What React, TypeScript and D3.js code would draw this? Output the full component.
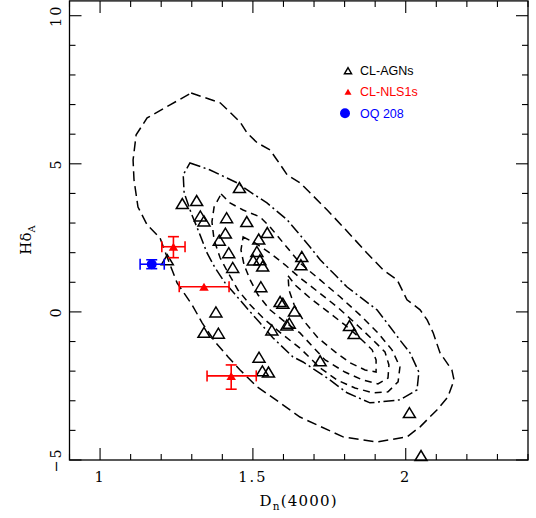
import React from "react";
import * as d3 from "d3";

// ---------- data ----------
const agnX = [1.456,1.269,1.316,1.328,1.340,1.414,1.480,1.410,1.390,1.547,1.519,1.421,1.513,1.501,1.523,1.532,1.434,1.526,1.220,1.660,1.657,1.589,1.598,1.636,1.619,1.611,1.562,1.379,1.340,1.387,1.520,1.531,1.551,1.816,1.831,1.720,2.012,2.050];
const agnY = [4.20,3.66,3.76,3.24,3.07,3.18,3.05,2.66,2.42,2.68,2.46,2.00,2.04,1.75,1.76,1.55,1.50,0.85,1.76,1.87,1.59,0.35,0.29,0.03,-0.38,-0.44,-0.61,0.0,-0.69,-0.72,-1.53,-1.99,-2.03,-0.46,-0.73,-1.65,-3.40,-4.85];

const nlsX = [1.240, 1.340, 1.429];
const nlsY = [2.20, 0.85, -2.16];
const nlsXLo = [0.038, 0.081, 0.079];
const nlsXHi = [0.038, 0.082, 0.082];
const nlsYLo = [0.37, 0, 0.45];
const nlsYHi = [0.34, 0, 0.37];

const oqX = [1.169];
const oqY = [1.61];
const oqXLo = [0.038];
const oqXHi = [0.041];
const oqYLo = [0.15];
const oqYHi = [0.15];

const contour1: [number, number][] = [[1.298,7.39],[1.393,7.06],[1.458,6.41],[1.481,6.04],[1.514,5.71],[1.556,5.47],[1.579,5.13],[1.612,4.63],[1.654,4.36],[1.687,4.02],[1.743,3.44],[1.795,2.87],[1.873,1.99],[1.926,1.42],[1.972,1.08],[2.004,0.41],[2.047,0.07],[2.07,-0.27],[2.09,-0.71],[2.112,-1.38],[2.151,-1.96],[2.158,-2.30],[2.138,-2.87],[2.102,-3.31],[2.047,-3.88],[2.004,-4.22],[1.906,-4.39],[1.795,-4.22],[1.654,-3.55],[1.589,-3.07],[1.514,-2.53],[1.458,-1.96],[1.419,-1.52],[1.376,-1.01],[1.334,-0.37],[1.301,0.24],[1.252,0.98],[1.219,1.86],[1.196,2.50],[1.154,2.94],[1.124,3.54],[1.111,4.46],[1.108,5.13],[1.118,5.98],[1.154,6.55],[1.229,6.99]];
const contour2: [number, number][] = [[1.294,5.03],[1.360,4.79],[1.448,4.36],[1.491,4.05],[1.546,3.68],[1.612,3.11],[1.648,2.67],[1.687,2.19],[1.720,1.76],[1.762,1.32],[1.808,0.84],[1.850,0.51],[1.906,0.07],[1.949,-0.51],[1.981,-0.95],[2.014,-1.38],[2.043,-2.03],[2.037,-2.63],[1.981,-2.97],[1.883,-3.07],[1.808,-2.73],[1.743,-2.23],[1.664,-1.69],[1.631,-1.52],[1.566,-0.88],[1.523,-0.37],[1.491,0.0],[1.452,0.47],[1.409,0.98],[1.376,1.49],[1.350,1.99],[1.327,2.60],[1.298,3.34],[1.275,4.02],[1.272,4.63]];
const contour3: [number, number][] = [[1.396,3.98],[1.425,3.68],[1.468,3.44],[1.523,3.21],[1.556,2.87],[1.605,2.26],[1.654,1.65],[1.720,1.08],[1.785,0.51],[1.850,-0.10],[1.909,-0.71],[1.955,-1.28],[1.981,-1.86],[1.975,-2.36],[1.942,-2.70],[1.893,-2.73],[1.834,-2.57],[1.775,-2.30],[1.720,-1.89],[1.654,-1.22],[1.599,-0.78],[1.540,-0.27],[1.491,0.24],[1.451,0.74],[1.419,1.32],[1.393,1.82],[1.373,2.43],[1.366,3.04],[1.373,3.54]];
const contour4: [number, number][] = [[1.468,2.53],[1.507,2.33],[1.556,1.99],[1.605,1.59],[1.654,1.15],[1.713,0.68],[1.779,0.14],[1.841,-0.44],[1.893,-0.95],[1.932,-1.35],[1.945,-1.79],[1.942,-2.23],[1.909,-2.43],[1.860,-2.30],[1.801,-2.03],[1.736,-1.62],[1.654,-0.71],[1.605,-0.34],[1.556,0.07],[1.517,0.57],[1.491,1.08],[1.471,1.59],[1.461,2.09]];
const contour5: [number, number][] = [[1.615,1.22],[1.638,0.91],[1.687,0.47],[1.746,0.0],[1.801,-0.44],[1.850,-0.88],[1.890,-1.28],[1.903,-1.62],[1.903,-2.03],[1.867,-1.96],[1.818,-1.72],[1.769,-1.35],[1.713,-0.88],[1.664,-0.27],[1.635,0.24],[1.618,0.74]];

const xMajor = [1, 1.5, 2];
const xMajorLabels = ["1", "1.5", "2"];
const yMajor = [-5, 0, 5, 10];
const yMajorLabels = ["\u22125", "0", "5", "10"];

const legendLabels = ["CL-AGNs", "CL-NLS1s", "OQ 208"];

// ---------- layout ----------
const W = 536, H = 518;
const L = 69.5, R = 528, T = 0.9, B = 460;

export default function App() {
  const x = d3.scaleLinear().domain([0.9, 2.4]).range([L, R]);
  const y = d3.scaleLinear().domain([-5, 10.5]).range([B, T]);

  const xMinor = d3.range(9, 25).map((v) => v / 10).filter((v) => !xMajor.some((m) => Math.abs(m - v) < 1e-6));
  const yMinor = d3.range(-5, 11).filter((v) => !yMajor.includes(v));

  const line = d3.line<[number, number]>().x((d) => x(d[0])).y((d) => y(d[1])).curve(d3.curveLinearClosed);

  const tri = (cx: number, cy: number, w: number, h: number) =>
    `M${cx - w / 2},${cy + h / 2}L${cx + w / 2},${cy + h / 2}L${cx},${cy - h / 2}Z`;

  const serif = "'DejaVu Serif', serif";
  const sans = "'Liberation Sans', Arial, sans-serif";

  const errBars = (
    xs: number[], ys: number[], xl: number[], xh: number[], yl: number[], yh: number[], color: string
  ) =>
    xs.map((xv, i) => {
      const cx = x(xv), cy = y(ys[i]);
      const x0 = x(xv - xl[i]), x1 = x(xv + xh[i]);
      const y0 = y(ys[i] - yl[i]), y1 = y(ys[i] + yh[i]);
      return (
        <g key={i} stroke={color} strokeWidth={1.6} fill="none">
          <line x1={x0} x2={x1} y1={cy} y2={cy} />
          <line x1={x0} x2={x0} y1={cy - 5.5} y2={cy + 5.5} />
          <line x1={x1} x2={x1} y1={cy - 5.5} y2={cy + 5.5} />
          {yl[i] > 0 || yh[i] > 0 ? (
            <>
              <line x1={cx} x2={cx} y1={y0} y2={y1} />
              <line x1={cx - 5.5} x2={cx + 5.5} y1={y0} y2={y0} />
              <line x1={cx - 5.5} x2={cx + 5.5} y1={y1} y2={y1} />
            </>
          ) : null}
        </g>
      );
    });

  return (
    <svg width={W} height={H} style={{ position: "absolute", left: 0, top: 0, background: "#fff" }}>
      {/* contours */}
      <g fill="none" stroke="#000" strokeWidth={1.5}>
        <path d={line(contour1) || ""} strokeDasharray="10,5" />
        <path d={line(contour2) || ""} strokeDasharray="11,3.5,2,3.5" />
        <path d={line(contour3) || ""} strokeDasharray="7,5" />
        <path d={line(contour4) || ""} strokeDasharray="7,5" />
        <path d={line(contour5) || ""} strokeDasharray="7,5" />
      </g>

      {/* CL-AGNs */}
      <g fill="none" stroke="#000" strokeWidth={1.5}>
        {agnX.map((v, i) => (
          <path key={i} d={tri(x(v), y(agnY[i]), 12, 10)} />
        ))}
      </g>

      {/* CL-NLS1s */}
      {errBars(nlsX, nlsY, nlsXLo, nlsXHi, nlsYLo, nlsYHi, "#ff0000")}
      <g fill="#ff0000">
        {nlsX.map((v, i) => (
          <path key={i} d={tri(x(v), y(nlsY[i]), 9.5, 8)} />
        ))}
      </g>

      {/* OQ 208 */}
      {errBars(oqX, oqY, oqXLo, oqXHi, oqYLo, oqYHi, "#0000ff")}
      {oqX.map((v, i) => (
        <circle key={i} cx={x(v)} cy={y(oqY[i])} r={5} fill="#0000ff" />
      ))}

      {/* frame */}
      <rect x={L} y={T} width={R - L} height={B - T} fill="none" stroke="#000" strokeWidth={1.3} />

      {/* ticks */}
      <g stroke="#000" strokeWidth={1.1}>
        {xMajor.map((v) => (
          <g key={"xm" + v}>
            <line x1={x(v)} x2={x(v)} y1={B} y2={B - 12} />
            <line x1={x(v)} x2={x(v)} y1={T} y2={T + 12} />
          </g>
        ))}
        {xMinor.map((v) => (
          <g key={"xn" + v}>
            <line x1={x(v)} x2={x(v)} y1={B} y2={B - 6} />
            <line x1={x(v)} x2={x(v)} y1={T} y2={T + 6} />
          </g>
        ))}
        {yMajor.map((v) => (
          <g key={"ym" + v}>
            <line x1={L} x2={L + 12} y1={y(v)} y2={y(v)} />
            <line x1={R} x2={R - 12} y1={y(v)} y2={y(v)} />
          </g>
        ))}
        {yMinor.map((v) => (
          <g key={"yn" + v}>
            <line x1={L} x2={L + 6} y1={y(v)} y2={y(v)} />
            <line x1={R} x2={R - 6} y1={y(v)} y2={y(v)} />
          </g>
        ))}
      </g>

      {/* tick labels */}
      <g fontFamily={serif} fontSize={14.5} fill="#000" textAnchor="middle">
        {xMajor.map((v, i) => (
          <text key={v} x={x(v)} y={482} letterSpacing={2}>{xMajorLabels[i]}</text>
        ))}
        {yMajor.map((v, i) => (
          <text key={v} transform={`translate(61,${y(v)}) rotate(-90)`} letterSpacing={2}>{yMajorLabels[i]}</text>
        ))}
      </g>

      {/* axis titles */}
      <text x={(L + R) / 2} y={506} fontFamily={serif} fontSize={15} textAnchor="middle" letterSpacing={1.2}>
        D<tspan fontSize={10.5} dy={4}>n</tspan><tspan dy={-4}>(4000)</tspan>
      </text>
      <text transform={`translate(31,240) rotate(-90)`} fontFamily={serif} fontSize={15} textAnchor="middle">
        H&#948;<tspan fontSize={10} dy={4}>A</tspan>
      </text>

      {/* legend */}
      <g fontFamily={sans} fontSize={12.5}>
        <path d={tri(348, 70.7, 7, 6)} fill="none" stroke="#000" strokeWidth={1.5} />
        <text x={360} y={75.2} fill="#000">{legendLabels[0]}</text>
        <path d={tri(348, 91.7, 7, 6)} fill="#ff0000" />
        <text x={360} y={96.2} fill="#ff0000">{legendLabels[1]}</text>
        <circle cx={345} cy={113.3} r={5} fill="#0000ff" />
        <text x={360} y={117.8} fill="#0000ff">{legendLabels[2]}</text>
      </g>
    </svg>
  );
}
